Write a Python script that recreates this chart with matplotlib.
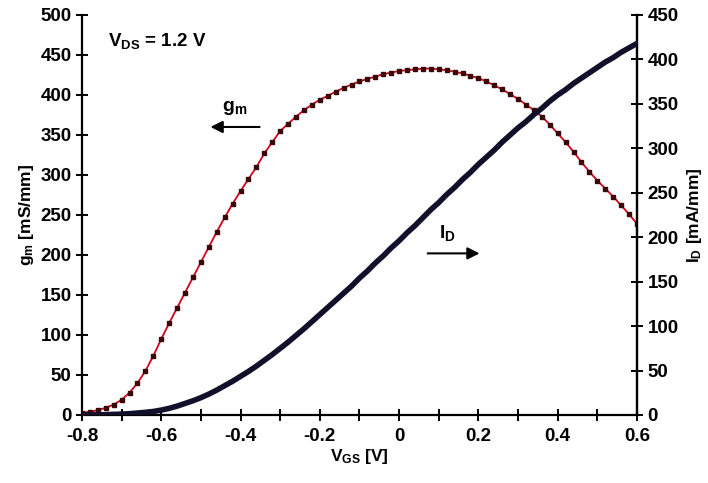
import numpy as np
import matplotlib.pyplot as plt
from matplotlib.ticker import MultipleLocator

plt.rcParams['font.family'] = ['Liberation Sans', 'DejaVu Sans']
plt.rcParams['font.weight'] = 'bold'
plt.rcParams['mathtext.fontset'] = 'custom'
plt.rcParams['mathtext.rm'] = 'Liberation Sans:bold'
plt.rcParams['mathtext.it'] = 'Liberation Sans:bold'
plt.rcParams['mathtext.bf'] = 'Liberation Sans:bold'

# gate voltage sweep [V]
vgs = np.round(np.arange(-0.80, 0.601, 0.02), 2)

# transconductance gm [mS/mm]
gm = [3, 4, 6, 9, 13, 19, 28, 40, 55, 74,
      95, 115, 134, 153, 172, 191, 210, 229, 247, 264,
      280, 295, 310, 327, 341, 355, 364, 373, 381, 388,
      394, 399, 404, 409, 413, 417, 420, 423, 426, 428,
      430, 431, 432, 433, 433, 432, 431, 429, 427, 424,
      421, 417, 412, 407, 401, 395, 388, 381, 373, 363,
      352, 341, 329, 316, 304, 293, 283, 273, 262, 251,
      239]

# drain current ID [mA/mm]
i_d = [0.0, 0.1, 0.2, 0.4, 0.7, 1.0, 1.5, 2.2, 3.0, 4.0,
       5.5, 7.5, 10, 13, 16, 19.5, 23.5, 28, 33, 38,
       43.5, 49, 55, 61.5, 68, 75, 82, 89.5, 97, 105,
       113, 121, 129, 137, 145, 154, 162, 171, 179, 188,
       196, 205, 213, 222, 231, 239, 248, 256, 265, 273,
       282, 290, 298, 307, 315, 323, 330, 338, 345, 353,
       360, 366, 373, 379, 385, 391, 397, 402, 408, 413,
       418]

fig = plt.figure(figsize=(7.08, 4.83), dpi=100)
ax = fig.add_axes([0.1158, 0.1408, 0.7839, 0.8282])
ax2 = ax.twinx()

ax.plot(vgs, gm, color='#d4001c', lw=1.3, marker='s', ms=2.2,
        mfc='#3a0808', mec='#3a0808', zorder=3)
ax2.plot(vgs, i_d, color='#10102a', lw=4, solid_capstyle='round', zorder=3)

ax.set_xlim(-0.8, 0.6)
ax.set_ylim(0, 500)
ax2.set_ylim(0, 450)
ax.xaxis.set_minor_locator(MultipleLocator(0.1))
ax.yaxis.set_major_locator(MultipleLocator(50))
ax2.yaxis.set_major_locator(MultipleLocator(50))
ax.set_xticks(np.round(np.arange(-0.8, 0.61, 0.2), 1))
ax.set_xticklabels(['-0.8', '-0.6', '-0.4', '-0.2', '0', '0.2', '0.4', '0.6'])

for a in (ax, ax2):
    a.spines['top'].set_visible(False)
    for s in a.spines.values():
        s.set_linewidth(1.6)
    a.tick_params(which='both', direction='inout', width=1.4, labelsize=13.5)
ax.tick_params(axis='x', which='both', length=9, pad=5)
ax.tick_params(axis='y', length=9, pad=3)
ax2.tick_params(axis='y', length=9, pad=3)
ax2.spines['left'].set_visible(False)
ax2.spines['bottom'].set_visible(False)

ax.set_xlabel(r'$\mathregular{V_{GS}}$ [V]', fontsize=12.5, fontweight='bold', labelpad=1)
ax.set_ylabel(r'$\mathregular{g_m}$ [mS/mm]', fontsize=12.5, fontweight='bold', labelpad=3)
ax2.set_ylabel(r'$\mathregular{I_D}$ [mA/mm]', fontsize=12.5, fontweight='bold',
               rotation=90, labelpad=5)

ax.text(-0.735, 468, r'$\mathregular{V_{DS}}$ = 1.2 V', fontsize=13.5, fontweight='bold',
        va='center', ha='left')
ax.text(-0.415, 372, r'$\mathregular{g_m}$', fontsize=14, fontweight='bold',
        ha='center', va='bottom')
ax.annotate('', xy=(-0.483, 360), xytext=(-0.345, 360),
            arrowprops=dict(arrowstyle='-|>', color='black', lw=1.5, mutation_scale=18))
ax.text(0.121, 215, r'$\mathregular{I_D}$', fontsize=14, fontweight='bold',
        ha='center', va='bottom')
ax.annotate('', xy=(0.21, 202), xytext=(0.065, 202),
            arrowprops=dict(arrowstyle='-|>', color='black', lw=1.5, mutation_scale=18))

fig.savefig('out.png', dpi=100)
